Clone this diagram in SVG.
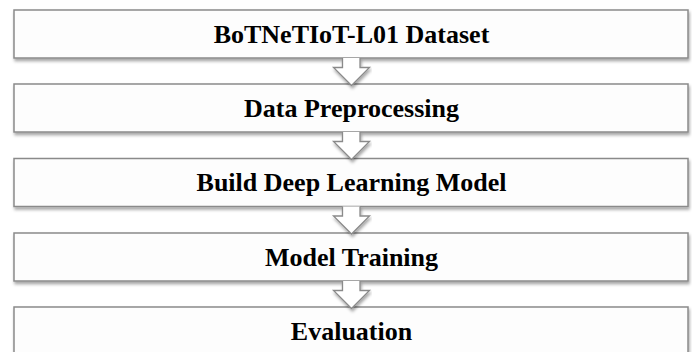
<svg xmlns="http://www.w3.org/2000/svg" width="692" height="352" viewBox="0 0 692 352">
<style>
.box{fill:#fdfdfd;stroke:#8a8a8a;stroke-width:1.5;filter:url(#sh)}
.arr{fill:#ffffff;stroke:#8a8a8a;stroke-width:1.3;stroke-linejoin:miter;filter:url(#sh)}
.lbl{font-family:"Liberation Serif","Times New Roman",serif;font-weight:bold;font-size:26px;fill:#000;text-anchor:middle}
</style>
<defs>
<filter id="sh" x="-5%" y="-30%" width="110%" height="170%">
<feDropShadow dx="1" dy="2.5" stdDeviation="1.5" flood-color="#000" flood-opacity="0.35"/>
</filter>
</defs>
<rect width="692" height="352" fill="#ffffff"/>
<g id="n1"><rect class="box" x="14" y="10" width="674" height="48"/><text class="lbl" x="351.5" y="42.5">BoTNeTIoT-L01 Dataset</text></g>
<g id="n2"><rect class="box" x="14" y="84" width="674" height="48"/><text class="lbl" x="351.5" y="116.5">Data Preprocessing</text></g>
<g id="n3"><rect class="box" x="14" y="158.5" width="674" height="48"/><text class="lbl" x="351.5" y="191">Build Deep Learning Model</text></g>
<g id="n4"><rect class="box" x="14" y="233" width="674" height="48"/><text class="lbl" x="351.5" y="265.5">Model Training</text></g>
<g id="n5"><rect class="box" x="14" y="307" width="674" height="52"/><text class="lbl" x="351.5" y="339.5">Evaluation</text></g>
<g id="connectors">
<path class="arr" d="M342.5,58 V67.5 H333.5 L351.5,85.5 L369.5,67.5 H360 V58"/>
<path class="arr" d="M342.5,132 V141.5 H333.5 L351.5,159.5 L369.5,141.5 H360 V132"/>
<path class="arr" d="M342.5,206.5 V216 H333.5 L351.5,234 L369.5,216 H360 V206.5"/>
<path class="arr" d="M342.5,281 V290.5 H333.5 L351.5,308.5 L369.5,290.5 H360 V281"/>
</g>
</svg>
